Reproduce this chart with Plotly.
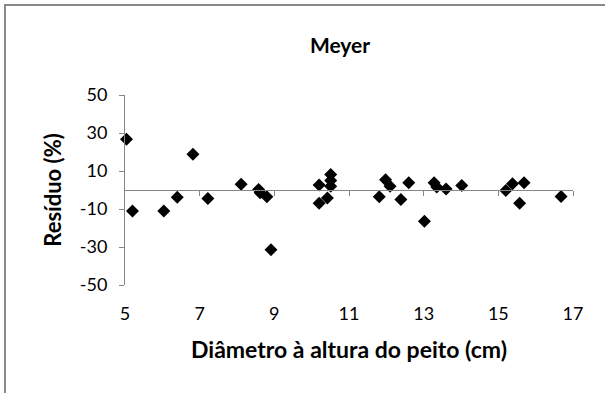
import plotly.graph_objects as go

title = "Meyer"
x_title = "Diâmetro à altura do peito (cm)"
y_title = "Resíduo (%)"

dap = [5.04, 5.2, 6.04, 6.4, 6.82, 7.22, 8.11, 8.58, 8.62, 8.8, 8.91,
       10.2, 10.2, 10.42, 10.51, 10.51, 10.51,
       11.81, 11.98, 12.1, 12.39, 12.6, 13.02, 13.28, 13.35, 13.6, 14.02,
       15.2, 15.38, 15.57, 15.69, 16.68]
residuo = [26.7, -11.0, -11.0, -3.8, 18.8, -4.5, 3.0, 0.3, -1.5, -3.6, -31.4,
           2.6, -7.0, -4.2, 8.2, 5.0, 2.0,
           -3.6, 5.4, 2.0, -5.0, 3.8, -16.5, 3.8, 1.6, 0.5, 2.4,
           -0.2, 3.3, -7.0, 3.8, -3.4]

x_ticks = [5, 7, 9, 11, 13, 15, 17]
y_ticks = [-50, -30, -10, 10, 30, 50]

axis_color = "#868686"
tick_font = dict(family="Lato", size=18, color="black")

fig = go.Figure()
fig.add_trace(go.Scatter(
    x=dap, y=residuo, mode="markers",
    marker=dict(symbol="diamond", size=10, color="black"),
    showlegend=False, cliponaxis=False,
))
# secondary x axis carrying the line and ticks at y = 0
fig.add_trace(go.Scatter(x=[x_ticks[0]], y=[0], xaxis="x2", mode="markers",
                         marker=dict(opacity=0), showlegend=False, hoverinfo="skip"))

fig.update_layout(
    width=605, height=393,
    margin=dict(l=125, r=32, t=95, b=108),
    paper_bgcolor="white", plot_bgcolor="white",
    title=dict(text="<b>" + title + "</b>", x=0.562, xanchor="center",
               y=1 - 46 / 393, yanchor="middle",
               font=dict(family="Lato", size=21, color="black")),
    xaxis=dict(range=[5, 17], tickvals=x_ticks, ticktext=[str(v) for v in x_ticks],
               showline=False, ticks="", showgrid=False, zeroline=False,
               tickfont=tick_font, ticklabelstandoff=16,
               title=dict(text="<b>" + x_title + "</b>",
                          font=dict(family="Lato", size=23, color="black"), standoff=18)),
    xaxis2=dict(range=[5, 17], tickvals=x_ticks[1:], overlaying="x", anchor="free",
                position=0.5, side="bottom", showline=True, linecolor=axis_color,
                linewidth=1, ticks="outside", ticklen=5, tickcolor=axis_color,
                showticklabels=False, showgrid=False, zeroline=False),
    yaxis=dict(range=[-50, 50], tickvals=y_ticks, ticktext=[str(v) for v in y_ticks],
               showline=True, linecolor=axis_color, linewidth=1,
               ticks="outside", ticklen=5, tickcolor=axis_color,
               showgrid=False, zeroline=False, tickfont=tick_font,
               ticklabelstandoff=8,
               title=dict(text="<b>" + y_title + "</b>",
                          font=dict(family="Lato", size=22, color="black"), standoff=12)),
    shapes=[dict(type="rect", xref="paper", yref="paper",
                 x0=-120 / 448, x1=1.5, y0=-1.5, y1=1 + 90 / 190,
                 line=dict(color="#888888", width=2), fillcolor="rgba(0,0,0,0)",
                 layer="below")],
)

fig.write_html("out.html")
